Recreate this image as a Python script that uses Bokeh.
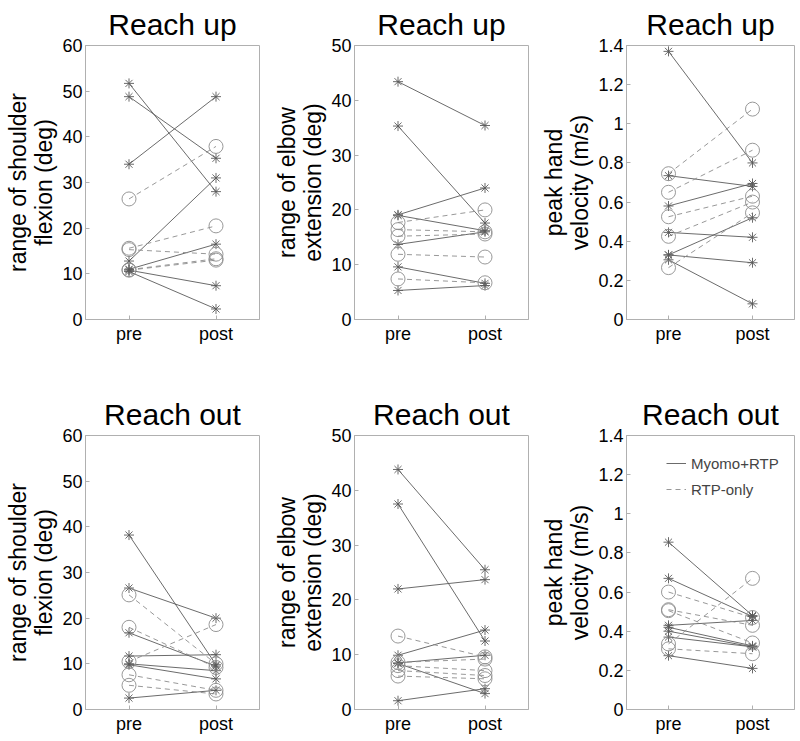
from bokeh.plotting import figure
from bokeh.layouts import column, row
from bokeh.models import FactorRange, Range1d, FixedTicker, CustomJSTickFormatter, Legend, LegendItem
from bokeh.embed import file_html
from bokeh.resources import INLINE

cats = ["pre", "post"]

# Reach up - shoulder flexion (deg)
up_sh_myo_pre = [51.7, 48.8, 34.0, 12.8, 11.0, 10.8, 10.5]
up_sh_myo_post = [28.0, 35.3, 48.8, 31.0, 16.5, 7.4, 2.3]
up_sh_rtp_pre = [26.4, 15.6, 15.3, 10.9, 10.8]
up_sh_rtp_post = [37.9, 20.5, 14.3, 13.3, 13.0]

# Reach up - elbow extension (deg)
up_el_myo_pre = [43.4, 35.3, 19.1, 19.0, 13.7, 9.6, 5.3]
up_el_myo_post = [35.4, 17.6, 24.0, 16.2, 16.0, 6.6, 6.2]
up_el_rtp_pre = [17.7, 16.4, 15.2, 11.9, 7.4]
up_el_rtp_post = [20.0, 16.0, 15.6, 11.4, 6.7]

# Reach up - peak hand velocity (m/s)
up_v_myo_pre = [1.37, 0.735, 0.58, 0.445, 0.33, 0.33, 0.305]
up_v_myo_post = [0.80, 0.68, 0.695, 0.42, 0.52, 0.29, 0.08]
up_v_rtp_pre = [0.745, 0.65, 0.525, 0.425, 0.265]
up_v_rtp_post = [1.075, 0.865, 0.63, 0.60, 0.545]

# Reach out - shoulder flexion (deg)
out_sh_myo_pre = [38.2, 26.6, 16.8, 11.7, 10.0, 9.8, 2.5]
out_sh_myo_post = [9.8, 20.0, 9.5, 12.0, 8.5, 6.7, 4.2]
out_sh_rtp_pre = [25.1, 18.0, 10.5, 7.6, 5.3]
out_sh_rtp_post = [10.0, 9.2, 18.6, 4.2, 3.4]

# Reach out - elbow extension (deg)
out_el_myo_pre = [43.8, 37.5, 22.0, 9.9, 8.5, 8.4, 1.6]
out_el_myo_post = [25.5, 12.5, 23.7, 14.5, 9.9, 2.9, 3.8]
out_el_rtp_pre = [13.4, 8.6, 8.0, 7.1, 6.1]
out_el_rtp_post = [9.6, 9.2, 7.1, 6.2, 5.6]

# Reach out - peak hand velocity (m/s)
out_v_myo_pre = [0.855, 0.67, 0.43, 0.42, 0.40, 0.37, 0.275]
out_v_myo_post = [0.48, 0.475, 0.455, 0.325, 0.32, 0.32, 0.21]
out_v_rtp_pre = [0.60, 0.51, 0.505, 0.335, 0.31]
out_v_rtp_post = [0.47, 0.43, 0.34, 0.67, 0.285]

deg_ticks_60 = [0, 10, 20, 30, 40, 50, 60]
deg_ticks_50 = [0, 10, 20, 30, 40, 50]
vel_ticks = [0, 0.2, 0.4, 0.6, 0.8, 1.0, 1.2, 1.4]

FONT = "Liberation Sans"
SOLID_C = "#5a5a5a"
DASH_C = "#8c8c8c"


def panel(title, ylabel, ymax, ticks, m_pre, m_post, r_pre, r_post,
          left, right, top, bottom, fw, legend=False):
    p = figure(x_range=FactorRange(factors=cats), y_range=Range1d(0, ymax),
               frame_width=fw, frame_height=274,
               min_border_left=left, min_border_right=right,
               min_border_top=top, min_border_bottom=bottom,
               output_backend="svg", toolbar_location=None, title=title)
    p.title.text_font = FONT
    p.title.text_font_size = "30px"
    p.title.text_font_style = "normal"
    p.title.align = "center"
    p.title.text_color = "black"
    p.title.standoff = 10
    p.xgrid.visible = False
    p.ygrid.visible = False
    p.outline_line_color = "#b0b0b0"
    p.background_fill_color = "white"
    p.border_fill_color = "white"

    for ax in (p.xaxis[0], p.yaxis[0]):
        ax.axis_line_color = "#b0b0b0"
        ax.major_tick_in = 4
        ax.major_tick_out = 0
        ax.major_tick_line_color = "#b0b0b0"
        ax.minor_tick_line_color = None
        ax.major_label_text_font = FONT
        ax.major_label_text_font_size = "18px"
        ax.major_label_text_color = "black"
        ax.major_label_standoff = 3
    p.xaxis[0].major_label_standoff = 4
    p.yaxis[0].ticker = FixedTicker(ticks=ticks)
    p.yaxis[0].formatter = CustomJSTickFormatter(code="return String(Math.round(tick*10)/10);")
    p.yaxis[0].axis_label = ylabel
    p.yaxis[0].axis_label_text_font = FONT
    p.yaxis[0].axis_label_text_font_size = "23px"
    p.yaxis[0].axis_label_text_font_style = "normal"
    p.yaxis[0].axis_label_text_color = "black"
    p.yaxis[0].axis_label_text_line_height = 1.0
    p.yaxis[0].axis_label_standoff = 2

    xs_m = [list(cats) for _ in m_pre]
    ys_m = [[a, b] for a, b in zip(m_pre, m_post)]
    xs_r = [list(cats) for _ in r_pre]
    ys_r = [[a, b] for a, b in zip(r_pre, r_post)]
    ml = p.multi_line(xs_m, ys_m, line_color=SOLID_C, line_width=0.9)
    rl = p.multi_line(xs_r, ys_r, line_color=DASH_C, line_width=0.9, line_dash="5 4")
    p.scatter(["pre"] * len(m_pre) + ["post"] * len(m_post), m_pre + m_post,
              marker="asterisk", size=10, line_color=SOLID_C, line_width=0.9)
    p.scatter(["pre"] * len(r_pre) + ["post"] * len(r_post), r_pre + r_post,
              marker="circle", size=14, line_color=DASH_C, fill_color=None, line_width=0.9)

    if legend:
        lg = Legend(items=[LegendItem(label="Myomo+RTP", renderers=[ml]),
                           LegendItem(label="RTP-only", renderers=[rl])],
                    location=(40, 210))
        lg.border_line_color = None
        lg.background_fill_alpha = 0
        lg.label_text_font = FONT
        lg.label_text_font_size = "15px"
        lg.glyph_width = 20
        lg.label_height = 20
        lg.spacing = 6
        lg.padding = 4
        p.add_layout(lg)
    return p


lab_sh = "range of shoulder\nflexion (deg)"
lab_el = "range of elbow\nextension (deg)"
lab_v = "peak hand\nvelocity (m/s)"

T1, B1, T2, B2 = 45, 50, 66, 30

p1 = panel("Reach up", lab_sh, 60, deg_ticks_60, up_sh_myo_pre, up_sh_myo_post,
           up_sh_rtp_pre, up_sh_rtp_post, 85, 10, T1, B1, 174)
p2 = panel("Reach up", lab_el, 50, deg_ticks_50, up_el_myo_pre, up_el_myo_post,
           up_el_rtp_pre, up_el_rtp_post, 85, 10, T1, B1, 174)
p3 = panel("Reach up", lab_v, 1.4, vel_ticks, up_v_myo_pre, up_v_myo_post,
           up_v_rtp_pre, up_v_rtp_post, 86, 6, T1, B1, 168)
p4 = panel("Reach out", lab_sh, 60, deg_ticks_60, out_sh_myo_pre, out_sh_myo_post,
           out_sh_rtp_pre, out_sh_rtp_post, 85, 10, T2, B2, 174)
p5 = panel("Reach out", lab_el, 50, deg_ticks_50, out_el_myo_pre, out_el_myo_post,
           out_el_rtp_pre, out_el_rtp_post, 85, 10, T2, B2, 174)
p6 = panel("Reach out", lab_v, 1.4, vel_ticks, out_v_myo_pre, out_v_myo_post,
           out_v_rtp_pre, out_v_rtp_post, 86, 6, T2, B2, 168, legend=True)

layout = column(row(p1, p2, p3), row(p4, p5, p6))
open("out.html", "w").write(file_html(layout, INLINE))
